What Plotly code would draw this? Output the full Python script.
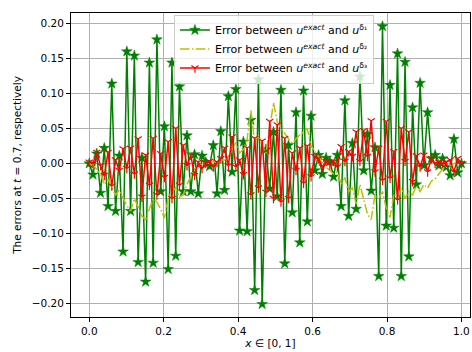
import numpy as np
import plotly.graph_objects as go

# grid of evaluation points x in [0, 1]
n_points = 100
x = np.linspace(0.0, 1.0, n_points)

err_delta1 = [
    0.000, -0.016, 0.014, -0.042, 0.022, -0.061, 0.114, -0.068, 0.011, -0.126,
    0.160, -0.068, 0.154, -0.141, 0.008, -0.169, 0.144, -0.142, 0.177, -0.040,
    0.053, -0.151, 0.144, -0.132, 0.110, -0.040, 0.040, -0.040, 0.013, -0.043,
    0.011, 0.002, -0.004, 0.026, -0.043, 0.046, -0.038, 0.096, -0.012, 0.106,
    -0.096, 0.031, -0.097, 0.062, -0.181, 0.120, -0.201, 0.020, -0.036, 0.045,
    -0.047, 0.105, -0.143, 0.026, -0.070, 0.073, -0.113, 0.104, -0.083, 0.068,
    -0.010, 0.012, -0.015, 0.008, 0.003, -0.019, 0.012, -0.061, 0.090, -0.075,
    0.029, -0.065, 0.124, -0.010, 0.042, -0.039, 0.023, -0.161, 0.196, -0.089,
    0.112, -0.092, 0.157, -0.161, 0.145, -0.133, 0.080, -0.030, 0.115, -0.003,
    0.073, 0.007, 0.012, -0.003, 0.007, -0.005, -0.017, 0.035, -0.013, 0.000,
]

err_delta2 = [
    0.000, -0.003, -0.008, -0.015, -0.030, -0.022, -0.035, -0.045, -0.038, -0.050,
    -0.060, -0.068, -0.050, -0.062, -0.075, -0.080, -0.065, -0.050, -0.055, -0.065,
    -0.078, -0.050, -0.040, -0.035, -0.048, -0.045, -0.030, -0.020, -0.008, -0.003,
    0.000, 0.002, 0.000, 0.003, 0.002, 0.005, 0.005, 0.010, 0.020, 0.030,
    0.015, 0.020, 0.035, 0.076, 0.030, 0.040, 0.025, 0.015, 0.050, 0.087,
    0.060, 0.050, 0.043, 0.035, 0.029, 0.035, 0.041, 0.045, 0.050, 0.025,
    0.017, 0.010, 0.000, -0.005, -0.010, -0.015, -0.012, -0.030, -0.020, -0.040,
    -0.035, -0.058, -0.030, -0.050, -0.072, -0.080, -0.045, -0.050, -0.040, -0.064,
    -0.077, -0.045, -0.050, -0.035, -0.050, -0.040, -0.045, -0.032, -0.040, -0.030,
    -0.035, -0.025, -0.022, -0.015, -0.008, -0.005, -0.003, 0.000, 0.002, 0.000,
]

err_delta3 = [
    0.002, 0.000, 0.016, -0.003, -0.017, 0.016, -0.032, 0.005, -0.010, 0.021,
    -0.007, 0.022, -0.015, 0.035, -0.048, 0.012, -0.031, 0.036, -0.045, 0.014,
    -0.020, 0.031, -0.050, 0.050, -0.031, 0.026, -0.003, 0.012, -0.017, 0.002,
    -0.007, 0.000, 0.003, -0.005, 0.002, 0.007, 0.022, -0.003, 0.038, -0.005,
    0.005, -0.016, 0.022, -0.045, 0.036, -0.035, 0.032, -0.041, 0.060, -0.050,
    0.055, -0.055, 0.036, -0.050, 0.015, -0.010, 0.022, -0.028, 0.025, -0.019,
    0.010, 0.007, -0.005, 0.003, -0.002, 0.003, -0.005, 0.024, 0.003, 0.017,
    0.010, 0.045, 0.003, 0.047, 0.010, 0.061, -0.012, 0.022, -0.024, 0.060,
    -0.021, 0.017, -0.052, 0.050, 0.003, 0.045, -0.026, 0.011, -0.005, 0.012,
    -0.012, 0.007, 0.000, 0.002, 0.000, 0.002, 0.005, -0.012, 0.007, 0.000,
]

x_ticks = [0.0, 0.2, 0.4, 0.6, 0.8, 1.0]
x_tick_labels = ["0.0", "0.2", "0.4", "0.6", "0.8", "1.0"]
y_ticks = [-0.20, -0.15, -0.10, -0.05, 0.00, 0.05, 0.10, 0.15, 0.20]
y_tick_labels = ["\u22120.20", "\u22120.15", "\u22120.10", "\u22120.05", "0.00",
                 "0.05", "0.10", "0.15", "0.20"]

names = [
    "Error between <i>u</i><sup><i>exact</i></sup> and <i>u</i><sup>\u03b4\u2081</sup>",
    "Error between <i>u</i><sup><i>exact</i></sup> and <i>u</i><sup>\u03b4\u2082</sup>",
    "Error between <i>u</i><sup><i>exact</i></sup> and <i>u</i><sup>\u03b4\u2083</sup>",
]

FONT = "DejaVu Sans"

fig = go.Figure()
fig.add_trace(go.Scatter(
    x=x, y=err_delta1, mode="lines+markers", name=names[0],
    line=dict(color="#008000", width=1.5),
    marker=dict(symbol="star", size=8, color="#008000",
                line=dict(color="#008000", width=0.5)),
))
fig.add_trace(go.Scatter(
    x=x, y=err_delta2, mode="lines", name=names[1],
    line=dict(color="#bfbf00", width=1.5, dash="9.6px,2.4px,1.5px,2.4px"),
))
fig.add_trace(go.Scatter(
    x=x, y=err_delta3, mode="lines+markers", name=names[2],
    line=dict(color="#ff0000", width=1.5),
    marker=dict(symbol="y-down", size=6, color="#ff0000",
                line=dict(color="#ff0000", width=1.2)),
))

axis_common = dict(
    showgrid=True, gridcolor="#b0b0b0", gridwidth=0.8,
    zeroline=False, showline=True, linecolor="black", linewidth=1,
    mirror=True, ticks="outside", ticklen=4, tickwidth=1, tickcolor="black",
    tickfont=dict(family=FONT, size=10.5, color="black"),
)

fig.update_layout(
    width=472, height=352,
    margin=dict(l=71, r=2, t=13, b=35),
    paper_bgcolor="white", plot_bgcolor="white",
    font=dict(family=FONT, size=10.5, color="black"),
    showlegend=True,
    legend=dict(
        x=0.258, y=0.995, xanchor="left", yanchor="top",
        bgcolor="rgba(255,255,255,0.8)", bordercolor="#cccccc", borderwidth=1,
        font=dict(family=FONT, size=11, color="black"),
        itemwidth=30, tracegroupgap=0,
    ),
    xaxis=dict(
        range=[-0.049, 1.023],
        tickvals=x_ticks, ticktext=x_tick_labels,
        title=dict(text="<i>x</i> \u2208 [0, 1]", standoff=4,
                   font=dict(family=FONT, size=10.5, color="black")),
        **axis_common,
    ),
    yaxis=dict(
        range=[-0.2193, 0.215],
        tickvals=y_ticks, ticktext=y_tick_labels,
        title=dict(text="The errors at <i>t</i> = 0.7, respectively", standoff=8,
                   font=dict(family=FONT, size=10.5, color="black")),
        **axis_common,
    ),
)

fig.write_html("out.html", config={"displayModeBar": False})

# remove the browser's default page margin so the figure sits at the top-left corner
with open("out.html", "r", encoding="utf-8") as fh:
    html = fh.read()
html = html.replace("<head>", "<head><style>html,body{margin:0;padding:0;overflow:hidden;}</style>", 1)
with open("out.html", "w", encoding="utf-8") as fh:
    fh.write(html)
